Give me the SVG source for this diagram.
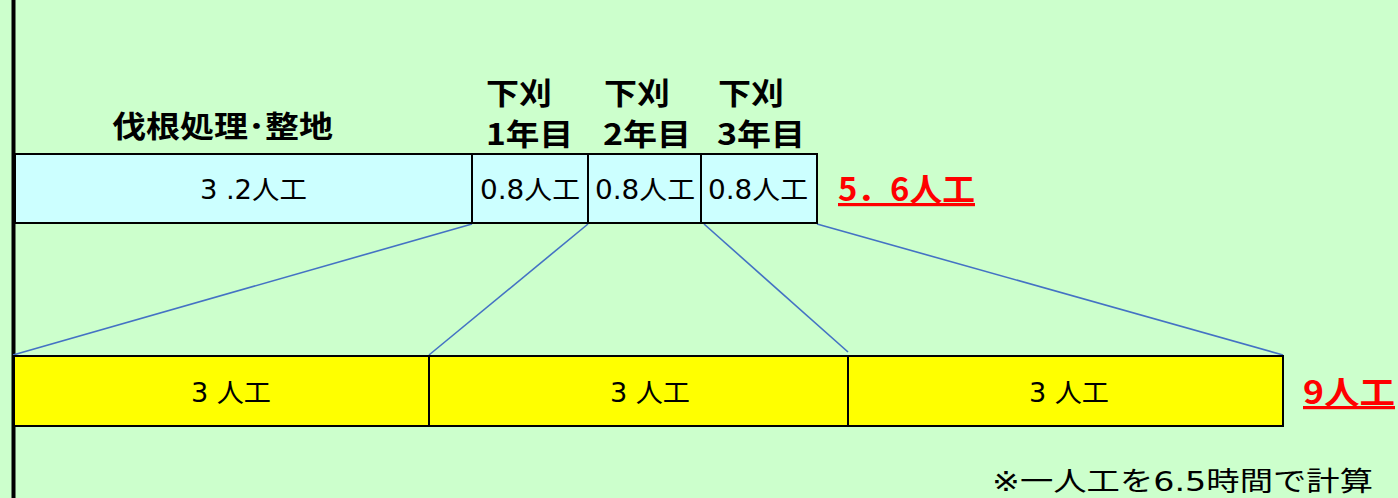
<svg xmlns="http://www.w3.org/2000/svg" width="1398" height="498" viewBox="0 0 1398 498">
<style>
.top{fill:#CCFFFF;stroke:#000;stroke-width:2}
.bot{fill:#FFFF00;stroke:#000;stroke-width:2}
.lbl{font-family:"DejaVu Sans","Noto Sans CJK JP",sans-serif;font-size:26px;fill:#000}
.hd{font-family:"Noto Sans CJK JP",sans-serif;font-size:30px;font-weight:bold;fill:#000}
.tot{font-family:"Noto Sans CJK JP",sans-serif;font-size:32px;font-weight:bold;fill:#FF0000;text-decoration:underline}
.con{stroke:#4472C4;stroke-width:1.6;fill:none}
</style>
<rect width="1398" height="498" fill="#CCFFCC"/>
<line x1="13.5" y1="0" x2="13.5" y2="498" stroke="#000" stroke-width="4"/>
<g id="connectors">
<line class="con" x1="472" y1="224" x2="13" y2="355"/>
<line class="con" x1="588" y1="224" x2="429" y2="355"/>
<line class="con" x1="704" y1="224" x2="848" y2="352"/>
<line class="con" x1="817" y1="224" x2="1283" y2="355"/>
</g>
<g id="n-batsukon">
<rect class="top" x="15" y="154" width="457" height="69"/>
<text class="lbl" x="200" y="199" textLength="107" lengthAdjust="spacingAndGlyphs">3<tspan dx="8">.</tspan>2人工</text>
<text class="hd" x="112" y="137" textLength="221" lengthAdjust="spacingAndGlyphs">伐根処理･整地</text>
</g>
<g id="n-shitagari1">
<rect class="top" x="472" y="154" width="116" height="69"/>
<text class="lbl" x="480" y="199" textLength="100" lengthAdjust="spacingAndGlyphs">0.8人工</text>
<text class="hd" x="486" y="104" textLength="66" lengthAdjust="spacingAndGlyphs">下刈</text>
<text class="hd" x="486" y="145" textLength="87" lengthAdjust="spacingAndGlyphs">1年目</text>
</g>
<g id="n-shitagari2">
<rect class="top" x="588" y="154" width="113" height="69"/>
<text class="lbl" x="595" y="199" textLength="100" lengthAdjust="spacingAndGlyphs">0.8人工</text>
<text class="hd" x="604" y="104" textLength="66" lengthAdjust="spacingAndGlyphs">下刈</text>
<text class="hd" x="603" y="145" textLength="88" lengthAdjust="spacingAndGlyphs">2年目</text>
</g>
<g id="n-shitagari3">
<rect class="top" x="701" y="154" width="116" height="69"/>
<text class="lbl" x="708" y="199" textLength="100" lengthAdjust="spacingAndGlyphs">0.8人工</text>
<text class="hd" x="718" y="104" textLength="66" lengthAdjust="spacingAndGlyphs">下刈</text>
<text class="hd" x="717" y="145" textLength="88" lengthAdjust="spacingAndGlyphs">3年目</text>
</g>
<g id="n-total1">
<text class="tot" x="838" y="201" textLength="137" lengthAdjust="spacingAndGlyphs">5．6人工</text>
</g>
<g id="n-b1">
<rect class="bot" x="14" y="356" width="415" height="70"/>
<text class="lbl" x="191" y="402" textLength="80" lengthAdjust="spacingAndGlyphs">3<tspan dx="8">人工</tspan></text>
</g>
<g id="n-b2">
<rect class="bot" x="429" y="356" width="419" height="70"/>
<text class="lbl" x="610" y="402" textLength="80" lengthAdjust="spacingAndGlyphs">3<tspan dx="8">人工</tspan></text>
</g>
<g id="n-b3">
<rect class="bot" x="848" y="356" width="435" height="70"/>
<text class="lbl" x="1029" y="402" textLength="80" lengthAdjust="spacingAndGlyphs">3<tspan dx="8">人工</tspan></text>
</g>
<g id="n-total2">
<text class="tot" x="1303" y="404" textLength="92" lengthAdjust="spacingAndGlyphs">9人工</text>
</g>
<g id="n-note">
<text x="992" y="491" textLength="381" lengthAdjust="spacingAndGlyphs" font-family="DejaVu Sans,'Noto Sans CJK JP',sans-serif" font-size="27" fill="#000">※一人工を6.5時間で計算</text>
</g>
</svg>
